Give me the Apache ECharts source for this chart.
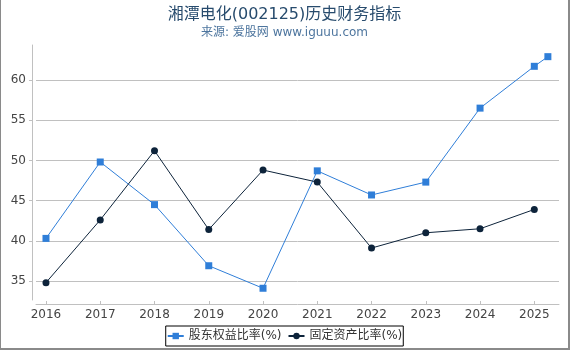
<!DOCTYPE html>
<html>
<head>
<meta charset="utf-8">
<script src="https://cdn.jsdelivr.net/npm/echarts@6/dist/echarts.min.js"></script>
<style>
  html, body { margin: 0; padding: 0; background: #fff; }
  #chart {
    width: 567px; height: 348px;
    border-left: 1px solid #8a8a8a;
    border-right: 2px solid #8a8a8a;
    border-bottom: 2px solid #8a8a8a;
  }
</style>
</head>
<body>
<div id="chart"></div>
<script>
// data
const years = [2016, 2017, 2018, 2019, 2020, 2021, 2022, 2023, 2024, 2025];
const equityYears = [2016, 2017, 2018, 2019, 2020, 2021, 2022, 2023, 2024, 2025, 2025.25];
const equityRatio = [40.3, 49.8, 44.5, 36.9, 34.1, 48.7, 45.7, 47.3, 56.5, 61.7, 62.9];
const fixedAssetRatio = [34.8, 42.6, 51.2, 41.4, 48.8, 47.3, 39.1, 41.0, 41.5, 43.9];
const yTicks = [35, 40, 45, 50, 55, 60];

const pairs = (xs, ys) => xs.map((x, i) => [x, ys[i]]);

const chart = echarts.init(document.getElementById('chart'));
const font = 'DejaVu Sans, Noto Sans CJK SC, sans-serif';

const option = {
    animation: false,
    title: {
        text: '湘潭电化(002125)历史财务指标',
        subtext: '来源: 爱股网 www.iguuu.com',
        left: 'center',
        top: 2,
        itemGap: 4,
        textStyle: { fontFamily: font, fontSize: 16, fontWeight: 'normal', color: '#274b6d' },
        subtextStyle: { fontFamily: font, fontSize: 12, color: '#4d759e' }
    },
    legend: {
        data: ['股东权益比率(%)', '固定资产比率(%)'],
        left: 'center',
        top: 326,
        padding: [4, 1],
        itemGap: 6,
        itemWidth: 16,
        itemHeight: 8,
        borderColor: '#000',
        borderWidth: 1,
        textStyle: { fontFamily: font, fontSize: 12, color: '#333' }
    },
    grid: { left: 35, right: 9, top: 45, bottom: 48, containLabel: false },
    xAxis: {
        type: 'value',
        min: 2015.816,
        max: 2025.455,
        offset: 4,
        axisLine: { lineStyle: { color: '#c0c0c0' } },
        axisTick: { inside: true, length: 3, customValues: years, lineStyle: { color: '#c0c0c0' } },
        axisLabel: {
            customValues: years,
            formatter: (v) => String(v),
            margin: 5,
            fontFamily: font, fontSize: 12, color: '#444'
        },
        splitLine: { show: false }
    },
    yAxis: {
        type: 'value',
        min: 32.64,
        max: 64.35,
        offset: 4,
        axisLine: { show: true, lineStyle: { color: '#c0c0c0' } },
        axisTick: { show: true, length: 3, customValues: yTicks, lineStyle: { color: '#c0c0c0' } },
        axisLabel: {
            customValues: yTicks,
            margin: 6,
            fontFamily: font, fontSize: 12, color: '#444'
        },
        splitLine: { show: true, lineStyle: { color: '#c0c0c0' } }
    },
    series: [
        {
            name: '股东权益比率(%)',
            type: 'line',
            data: pairs(equityYears, equityRatio),
            symbol: 'rect',
            symbolSize: 7,
            lineStyle: { width: 1, color: '#2f7ed8' },
            itemStyle: { color: '#2f7ed8' }
        },
        {
            name: '固定资产比率(%)',
            type: 'line',
            data: pairs(years, fixedAssetRatio),
            symbol: 'circle',
            symbolSize: 7,
            lineStyle: { width: 1, color: '#0d233a' },
            itemStyle: { color: '#0d233a' }
        }
    ]
};

chart.setOption(option);
</script>
</body>
</html>
